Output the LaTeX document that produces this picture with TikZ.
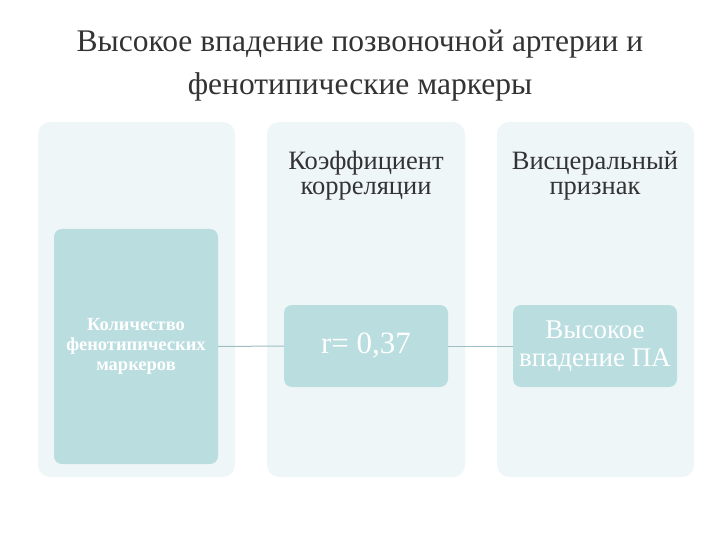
\documentclass[tikz,border=0pt]{standalone}
\usepackage{fontspec}
\setmainfont{Liberation Serif}
\definecolor{panel}{HTML}{EEF6F7}
\definecolor{inner}{HTML}{BADDE0}
\definecolor{conn}{HTML}{9DBFC2}
\definecolor{txt}{HTML}{333333}
\begin{document}
\begin{tikzpicture}[x=1pt,y=-1pt,
  panelbox/.style={fill=panel,rounded corners=12pt},
  innerbox/.style={fill=inner,rounded corners=8pt,text=white,align=center,inner sep=0pt},
  head/.style={text=txt,align=center,font=\fontsize{26.5}{25}\selectfont}]
\useasboundingbox (0,0) rectangle (720,540);
\node[text=txt,align=center,font=\fontsize{31.5}{43}\selectfont] (title) at (360,66) {Высокое впадение позвоночной артерии и\\фенотипические маркеры};
\fill[panelbox] (38,122) rectangle (235,477);
\fill[panelbox] (267,122) rectangle (465,477);
\fill[panelbox] (497,122) rectangle (694,477);
\node[head] (h1) at (366,176) {Коэффициент\\корреляции};
\node[head] (h2) at (595,176) {Висцеральный\\признак};
\node[innerbox,minimum width=164pt,minimum height=235pt,font=\bfseries\fontsize{18.5}{20}\selectfont] (a) at (136,346.5) {Количество\\фенотипических\\маркеров};
\node[innerbox,minimum width=164pt,minimum height=82pt,font=\fontsize{31}{34}\selectfont] (b) at (366,346) {r= 0,37};
\node[innerbox,minimum width=164pt,minimum height=82pt,font=\fontsize{27}{28}\selectfont] (c) at (595,346) {Высокое\\впадение ПА};
\draw[conn,line width=1pt] (a.east) -- (b.west);
\draw[conn,line width=1pt] (b.east) -- (c.west);
\end{tikzpicture}
\end{document}
